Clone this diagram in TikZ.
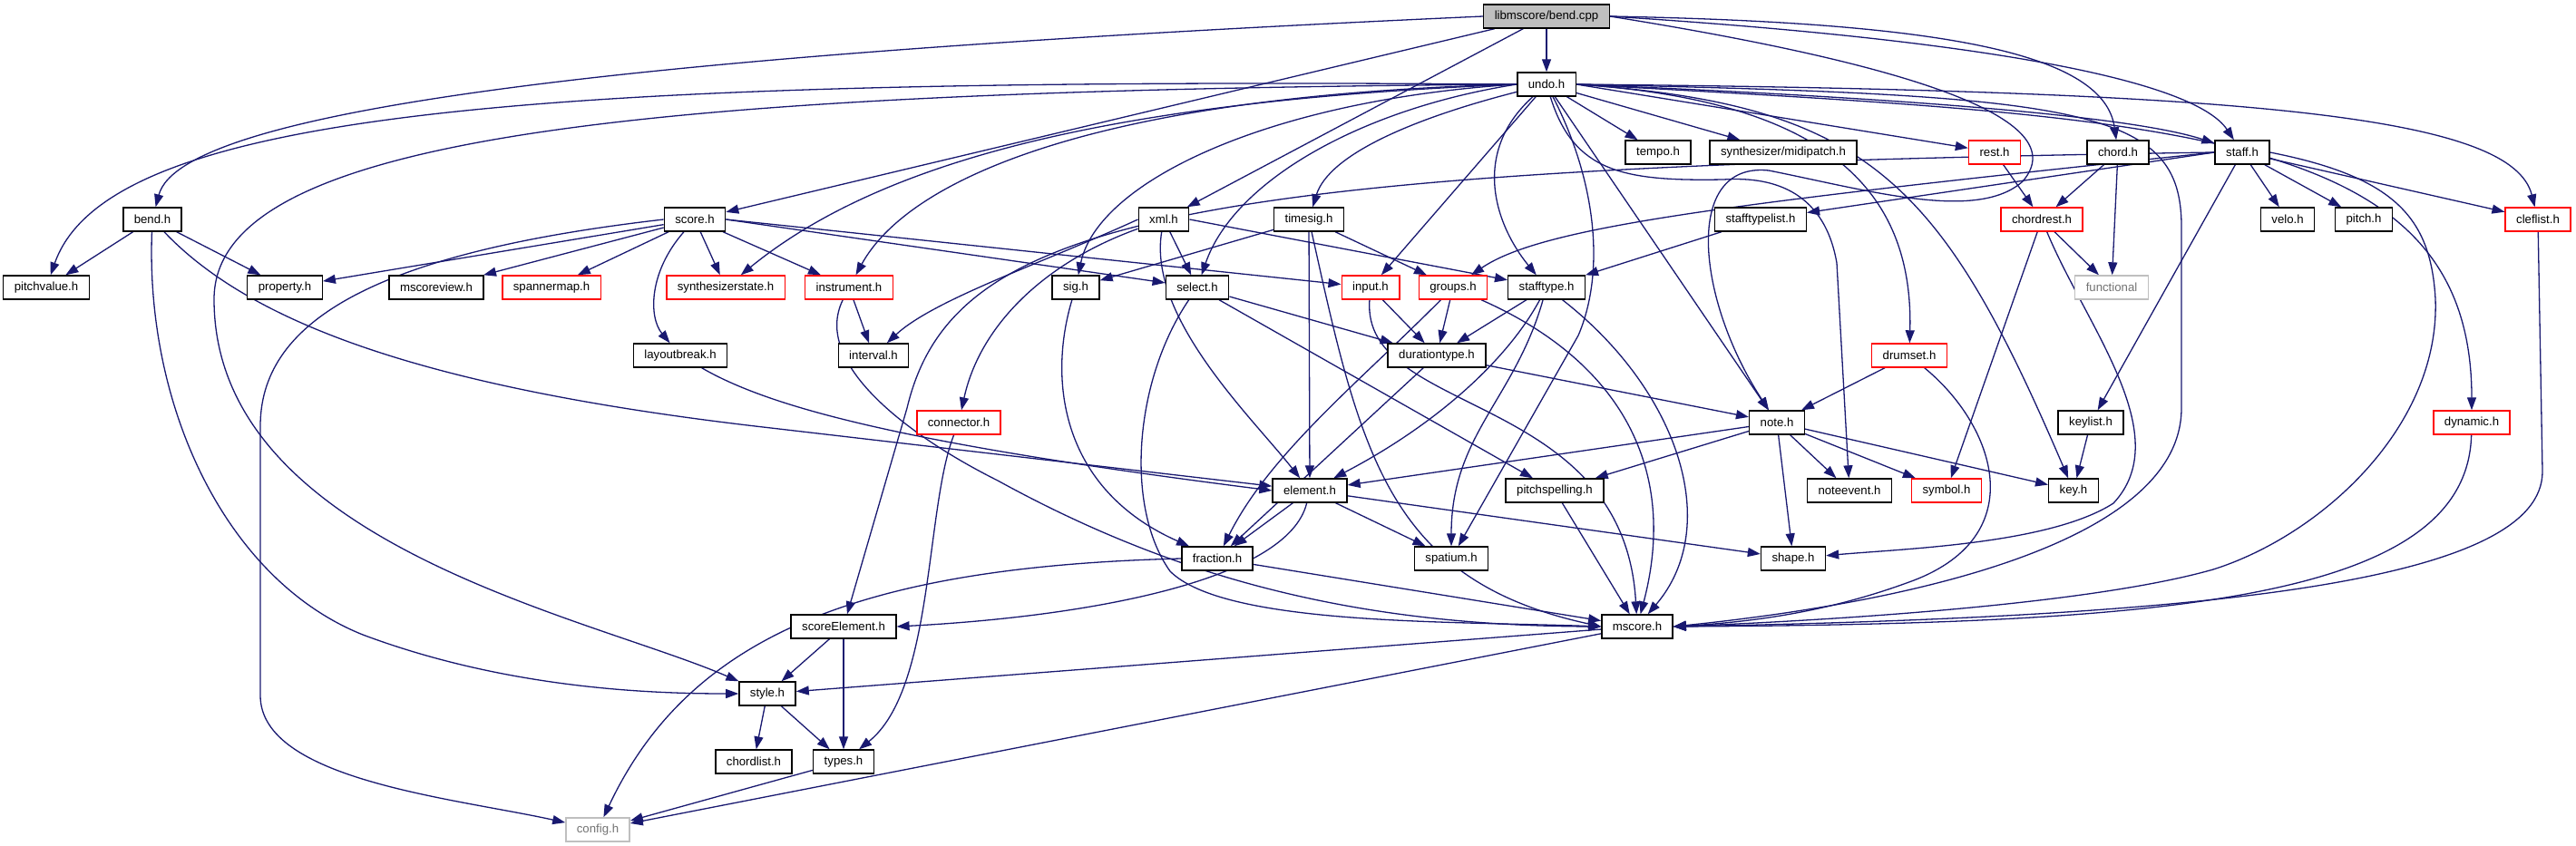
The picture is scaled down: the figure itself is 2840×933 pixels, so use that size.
\documentclass[tikz,border=0pt]{standalone}
\usepackage{fontspec}
\setmainfont{Liberation Sans}
\usetikzlibrary{arrows.meta}
\definecolor{edgeblue}{RGB}{25,25,112}
\definecolor{greyline}{RGB}{191,191,191}
\pgfdeclarelayer{edges}
\pgfsetlayers{edges,main}

\begin{document}
\begin{tikzpicture}[x=1pt,y=-1pt,
	box/.style={draw,line width=1.4pt,fill=white,minimum height=26pt,inner xsep=12pt,inner ysep=0pt,font=\fontsize{13.2}{15}\selectfont},
	redbox/.style={box,draw=red},
	extbox/.style={box,draw=greyline,text=black!55},
	flow/.style={-{Triangle[length=14pt,width=10pt]},draw=edgeblue,line width=1.3pt}]
\useasboundingbox (0,0) rectangle (2840,933);
\node[box,fill=greyline] (bendcpp) at (1705,18) {libmscore/bend.cpp};
\node[box] (undo) at (1705,93) {undo.h};
\node[box] (tempo) at (1828,168) {tempo.h};
\node[box] (midipatch) at (1966,168) {synthesizer/midipatch.h};
\node[redbox] (rest) at (2199,168) {rest.h};
\node[box] (chord) at (2335,168) {chord.h};
\node[box] (staff) at (2472,168) {staff.h};
\node[box] (bendh) at (168,242) {bend.h};
\node[box] (score) at (766,242) {score.h};
\node[box] (xml) at (1283,242) {xml.h};
\node[box] (timesig) at (1443,242) {timesig.h};
\node[box] (stafftypelist) at (1941,242) {stafftypelist.h};
\node[redbox] (chordrest) at (2251,242) {chordrest.h};
\node[box] (velo) at (2522,242) {velo.h};
\node[box] (pitch) at (2606,242) {pitch.h};
\node[redbox] (cleflist) at (2798,242) {cleflist.h};
\node[box] (pitchvalue) at (51,317) {pitchvalue.h};
\node[box] (property) at (314,317) {property.h};
\node[box] (mscoreview) at (481,317) {mscoreview.h};
\node[redbox] (spannermap) at (608,317) {spannermap.h};
\node[redbox] (synthstate) at (800,317) {synthesizerstate.h};
\node[redbox] (instrument) at (936,317) {instrument.h};
\node[box] (sig) at (1186,317) {sig.h};
\node[box] (select) at (1320,317) {select.h};
\node[redbox] (input) at (1511,317) {input.h};
\node[redbox] (groups) at (1602,317) {groups.h};
\node[box] (stafftype) at (1705,317) {stafftype.h};
\node[extbox] (functional) at (2328,317) {functional};
\node[box] (layoutbreak) at (750,392) {layoutbreak.h};
\node[box] (interval) at (963,392) {interval.h};
\node[box] (durationtype) at (1584,392) {durationtype.h};
\node[redbox] (drumset) at (2105,392) {drumset.h};
\node[redbox] (connector) at (1057,466) {connector.h};
\node[box] (note) at (1959,466) {note.h};
\node[box] (keylist) at (2305,466) {keylist.h};
\node[redbox] (dynamic) at (2725,466) {dynamic.h};
\node[box] (element) at (1444,541) {element.h};
\node[box] (pitchspelling) at (1714,541) {pitchspelling.h};
\node[box] (noteevent) at (2039,541) {noteevent.h};
\node[redbox] (symbol) at (2146,541) {symbol.h};
\node[box] (key) at (2286,541) {key.h};
\node[box] (fraction) at (1342,616) {fraction.h};
\node[box] (spatium) at (1600,616) {spatium.h};
\node[box] (shape) at (1977,616) {shape.h};
\node[box] (scoreelement) at (930,691) {scoreElement.h};
\node[box] (mscore) at (1805,691) {mscore.h};
\node[box] (style) at (846,765) {style.h};
\node[box] (chordlist) at (831,840) {chordlist.h};
\node[box] (types) at (930,840) {types.h};
\node[extbox] (config) at (659,915) {config.h};

\begin{pgfonlayer}{edges}
\draw[flow] (bendcpp) -- (undo);
\draw[flow] (bendcpp.west) .. controls (700,60) and (200,120) .. (bendh);
\draw[flow] (bendcpp) -- (score);
\draw[flow] (bendcpp) -- (xml);
\draw[flow] (bendcpp.east) .. controls (2150,25) and (2320,60) .. (chord);
\draw[flow] (bendcpp.east) .. controls (2200,45) and (2420,90) .. (staff);
\draw[flow] (bendcpp.east) .. controls (2100,70) and (2290,130) .. (2230,200) .. controls (2180,245) and (2060,210) .. (1950,188) .. controls (1855,178) and (1870,330) .. (note);

\draw[flow] (undo) -- (tempo);
\draw[flow] (undo) -- (midipatch);
\draw[flow] (undo.east) -- (rest);
\draw[flow] (undo.east) .. controls (2100,108) and (2350,128) .. (staff);
\draw[flow] (undo.east) .. controls (2000,110) and (2110,200) .. (drumset);
\draw[flow] (undo.east) .. controls (2060,115) and (2140,200) .. (key);
\draw[flow] (undo) .. controls (1735,190) and (1790,200) .. (1900,198) .. controls (1960,194) and (2012,215) .. (2025,290) -- (noteevent);
\draw[flow] (undo) -- (note);
\draw[flow] (undo.east) .. controls (2300,105) and (2405,120) .. (2405,250) -- (2405,450) .. controls (2405,600) and (2100,665) .. (mscore.east);
\draw[flow] (undo.east) .. controls (2400,130) and (2725,140) .. (dynamic);
\draw[flow] (undo.east) .. controls (2500,100) and (2770,130) .. (cleflist);
\draw[flow] (undo) .. controls (1620,170) and (1650,250) .. (stafftype);
\draw[flow] (undo) -- (input);
\draw[flow] (undo) .. controls (1760,200) and (1770,300) .. (1740,370) -- (spatium);
\draw[flow] (undo) .. controls (1560,130) and (1465,170) .. (timesig);
\draw[flow] (undo.west) .. controls (1500,120) and (1360,200) .. (select);
\draw[flow] (undo.west) .. controls (1400,110) and (1210,200) .. (sig);
\draw[flow] (undo.west) .. controls (1200,105) and (1000,200) .. (instrument);
\draw[flow] (undo.west) .. controls (1250,110) and (980,170) .. (synthstate);
\draw[flow] (undo.west) .. controls (600,85) and (120,120) .. (pitchvalue);
\draw[flow] (undo.west) .. controls (700,100) and (236,150) .. (236,330) .. controls (236,600) and (650,680) .. (style);

\draw[flow] (staff) -- (velo);
\draw[flow] (staff) -- (pitch);
\draw[flow] (staff) -- (cleflist);
\draw[flow] (staff) -- (keylist);
\draw[flow] (staff.west) -- (stafftypelist);
\draw[flow] (staff.west) .. controls (1900,225) and (1700,250) .. (groups);
\draw[flow] (staff.west) .. controls (1300,185) and (1050,240) .. (1000,450) -- (scoreelement);
\draw[flow] (staff.east) .. controls (2640,195) and (2680,240) .. (2685,330) .. controls (2690,470) and (2560,590) .. (2440,628) .. controls (2300,668) and (2000,685) .. (mscore.east);

\draw[flow] (chord) -- (chordrest);
\draw[flow] (chord) -- (functional);
\draw[flow] (rest) -- (chordrest);
\draw[flow] (chordrest) -- (functional);
\draw[flow] (chordrest) -- (symbol);
\draw[flow] (chordrest) .. controls (2300,360) and (2400,480) .. (2330,555) .. controls (2260,600) and (2100,605) .. (shape);
\draw[flow] (stafftypelist) -- (stafftype);

\draw[flow] (drumset) -- (note);
\draw[flow] (drumset) .. controls (2200,470) and (2240,590) .. (2110,640) .. controls (2030,670) and (1950,685) .. (mscore.east);
\draw[flow] (keylist) -- (key);
\draw[flow] (dynamic) .. controls (2720,660) and (2400,688) .. (mscore.east);
\draw[flow] (cleflist) -- (2803,520) .. controls (2803,640) and (2450,680) .. (mscore.east);

\draw[flow] (note) -- (element);
\draw[flow] (note) -- (pitchspelling);
\draw[flow] (note) -- (noteevent);
\draw[flow] (note) -- (symbol);
\draw[flow] (note) -- (key);
\draw[flow] (note) -- (shape);

\draw[flow] (durationtype) -- (note);
\draw[flow] (durationtype) -- (fraction);
\draw[flow] (groups) -- (durationtype);
\draw[flow] (groups) .. controls (1500,420) and (1400,500) .. (fraction);
\draw[flow] (groups) .. controls (1790,400) and (1850,520) .. (mscore);
\draw[flow] (input) -- (durationtype);
\draw[flow] (input) .. controls (1500,460) and (1790,430) .. (mscore);
\draw[flow] (stafftype) -- (durationtype);
\draw[flow] (stafftype) .. controls (1660,400) and (1580,470) .. (element);
\draw[flow] (stafftype) .. controls (1670,440) and (1600,480) .. (spatium);
\draw[flow] (stafftype) .. controls (1850,430) and (1900,580) .. (mscore);
\draw[flow] (select) -- (durationtype);
\draw[flow] (select) -- (pitchspelling);
\draw[flow] (select) .. controls (1250,420) and (1240,560) .. (1290,630) .. controls (1350,690) and (1600,685) .. (mscore.west);
\draw[flow] (sig) .. controls (1155,420) and (1170,540) .. (fraction);

\draw[flow] (timesig) -- (sig);
\draw[flow] (timesig) -- (groups);
\draw[flow] (timesig) -- (element);
\draw[flow] (timesig) .. controls (1500,500) and (1530,640) .. (mscore.west);
\draw[flow] (xml.west) .. controls (1150,290) and (1030,330) .. (interval);
\draw[flow] (xml) .. controls (1150,290) and (1080,360) .. (connector);
\draw[flow] (xml) -- (select);
\draw[flow] (xml.east) -- (stafftype);
\draw[flow] (xml) .. controls (1265,350) and (1380,460) .. (element);

\draw[flow] (score) -- (property);
\draw[flow] (score) -- (mscoreview);
\draw[flow] (score) -- (spannermap);
\draw[flow] (score) -- (synthstate);
\draw[flow] (score) -- (instrument);
\draw[flow] (score) .. controls (715,300) and (715,350) .. (layoutbreak);
\draw[flow] (score.west) .. controls (400,280) and (287,360) .. (287,470) -- (287,767) .. controls (287,860) and (500,880) .. (config);
\draw[flow] (score.east) -- (input);
\draw[flow] (score.east) -- (select);

\draw[flow] (bendh) -- (pitchvalue);
\draw[flow] (bendh) -- (property);
\draw[flow] (bendh) .. controls (160,450) and (250,640) .. (400,700) .. controls (560,760) and (720,765) .. (style);
\draw[flow] (bendh) .. controls (280,360) and (480,430) .. (850,472) -- (element);
\draw[flow] (layoutbreak) .. controls (850,450) and (1000,490) .. (element.west);

\draw[flow] (instrument) -- (interval);
\draw[flow] (instrument) .. controls (895,400) and (1000,480) .. (1100,530) .. controls (1300,640) and (1500,690) .. (mscore.west);
\draw[flow] (connector) .. controls (1020,560) and (1030,760) .. (types);

\draw[flow] (element) -- (fraction);
\draw[flow] (element) -- (spatium);
\draw[flow] (element) -- (shape);
\draw[flow] (element) .. controls (1420,640) and (1200,680) .. (scoreelement.east);
\draw[flow] (pitchspelling) -- (mscore);
\draw[flow] (fraction.west) .. controls (950,625) and (760,700) .. (config);
\draw[flow] (fraction) -- (mscore);

\draw[flow] (scoreelement) -- (style);
\draw[flow] (scoreelement) -- (types);
\draw[flow] (mscore) -- (style);
\draw[flow] (mscore) -- (config);
\draw[flow] (style) -- (chordlist);
\draw[flow] (style) -- (types);
\draw[flow] (types) -- (config);
\end{pgfonlayer}
\end{tikzpicture}
\end{document}
